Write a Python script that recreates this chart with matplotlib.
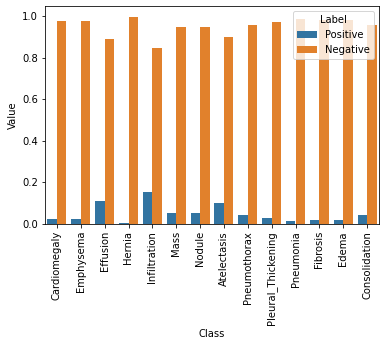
import matplotlib
matplotlib.use("Agg")
import matplotlib.pyplot as plt
import pandas as pd
import seaborn as sns

classes = ['Cardiomegaly', 'Emphysema', 'Effusion', 'Hernia', 'Infiltration',
           'Mass', 'Nodule', 'Atelectasis', 'Pneumothorax', 'Pleural_Thickening',
           'Pneumonia', 'Fibrosis', 'Edema', 'Consolidation']
positive = [0.024, 0.024, 0.111, 0.004, 0.154, 0.053, 0.053, 0.101, 0.043,
            0.029, 0.014, 0.019, 0.019, 0.043]
negative = [0.976, 0.976, 0.889, 0.996, 0.846, 0.947, 0.947, 0.899, 0.957,
            0.971, 0.986, 0.981, 0.981, 0.957]

df = pd.DataFrame({
    'Class': classes + classes,
    'Label': ['Positive'] * len(classes) + ['Negative'] * len(classes),
    'Value': positive + negative,
})

fig = plt.figure(figsize=(386 / 72, 346 / 72), dpi=72)
ax = fig.add_axes([45 / 386, (346 - 224) / 346, 334 / 386, 218 / 346])
sns.barplot(data=df, x='Class', y='Value', hue='Label', ax=ax)
ax.set_xticks(range(len(classes)))
ax.set_xticklabels(classes, rotation=90)
ax.set_ylim(0, 1.05)
ax.legend(title='Label', loc='upper right')
fig.savefig('out.png', dpi=72)
